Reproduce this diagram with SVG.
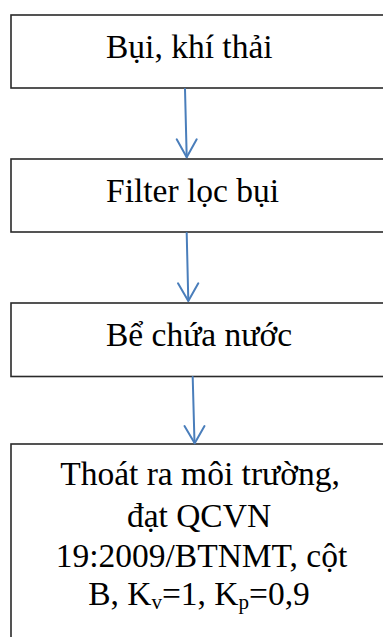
<svg xmlns="http://www.w3.org/2000/svg" width="383" height="637" viewBox="0 0 383 637">
<style>
.box{fill:#ffffff;stroke:#2a2a2a;stroke-width:1.6}
.t{font-family:"Liberation Serif","Times New Roman",serif;font-size:33.5px;fill:#000}
.c{text-anchor:middle}
.conn line,.conn polyline{fill:none;stroke:#4a7ebb;stroke-width:2;stroke-linecap:round;stroke-linejoin:round}
</style>
<rect width="383" height="637" fill="#ffffff"/>
<g id="node1">
<rect class="box" x="11" y="15" width="390" height="73"/>
<text class="t" x="106" y="58.3">Bụi, khí thải</text>
</g>
<g id="node2">
<rect class="box" x="11" y="159" width="390" height="73"/>
<text class="t" x="106" y="201.7">Filter lọc bụi</text>
</g>
<g id="node3">
<rect class="box" x="11" y="303" width="390" height="73.5"/>
<text class="t" x="106" y="346">Bể chứa nước</text>
</g>
<g id="node4">
<rect class="box" x="11" y="444" width="390" height="210"/>
<text class="t c" x="200" y="485">Thoát ra môi trường,</text>
<text class="t c" x="199" y="526.5">đạt QCVN</text>
<text class="t c" x="201.5" y="566.5">19:2009/BTNMT, cột</text>
<text class="t c" x="199" y="604.5">B, K<tspan font-size="21" dy="4">v</tspan><tspan dy="-4">=1, K</tspan><tspan font-size="21" dy="4">p</tspan><tspan dy="-4">=0,9</tspan></text>
</g>
<g class="conn" id="connectors">
<line x1="185" y1="89" x2="186.7" y2="157"/>
<polyline points="176.7,139.3 186.7,157.3 196.7,139.3"/>
<line x1="186.7" y1="233" x2="188.3" y2="300.5"/>
<polyline points="178,283.3 188.3,301 198.3,283.3"/>
<line x1="192.7" y1="377" x2="194.5" y2="443"/>
<polyline points="184.5,426 194.7,443.3 204.5,426"/>
</g>
</svg>
